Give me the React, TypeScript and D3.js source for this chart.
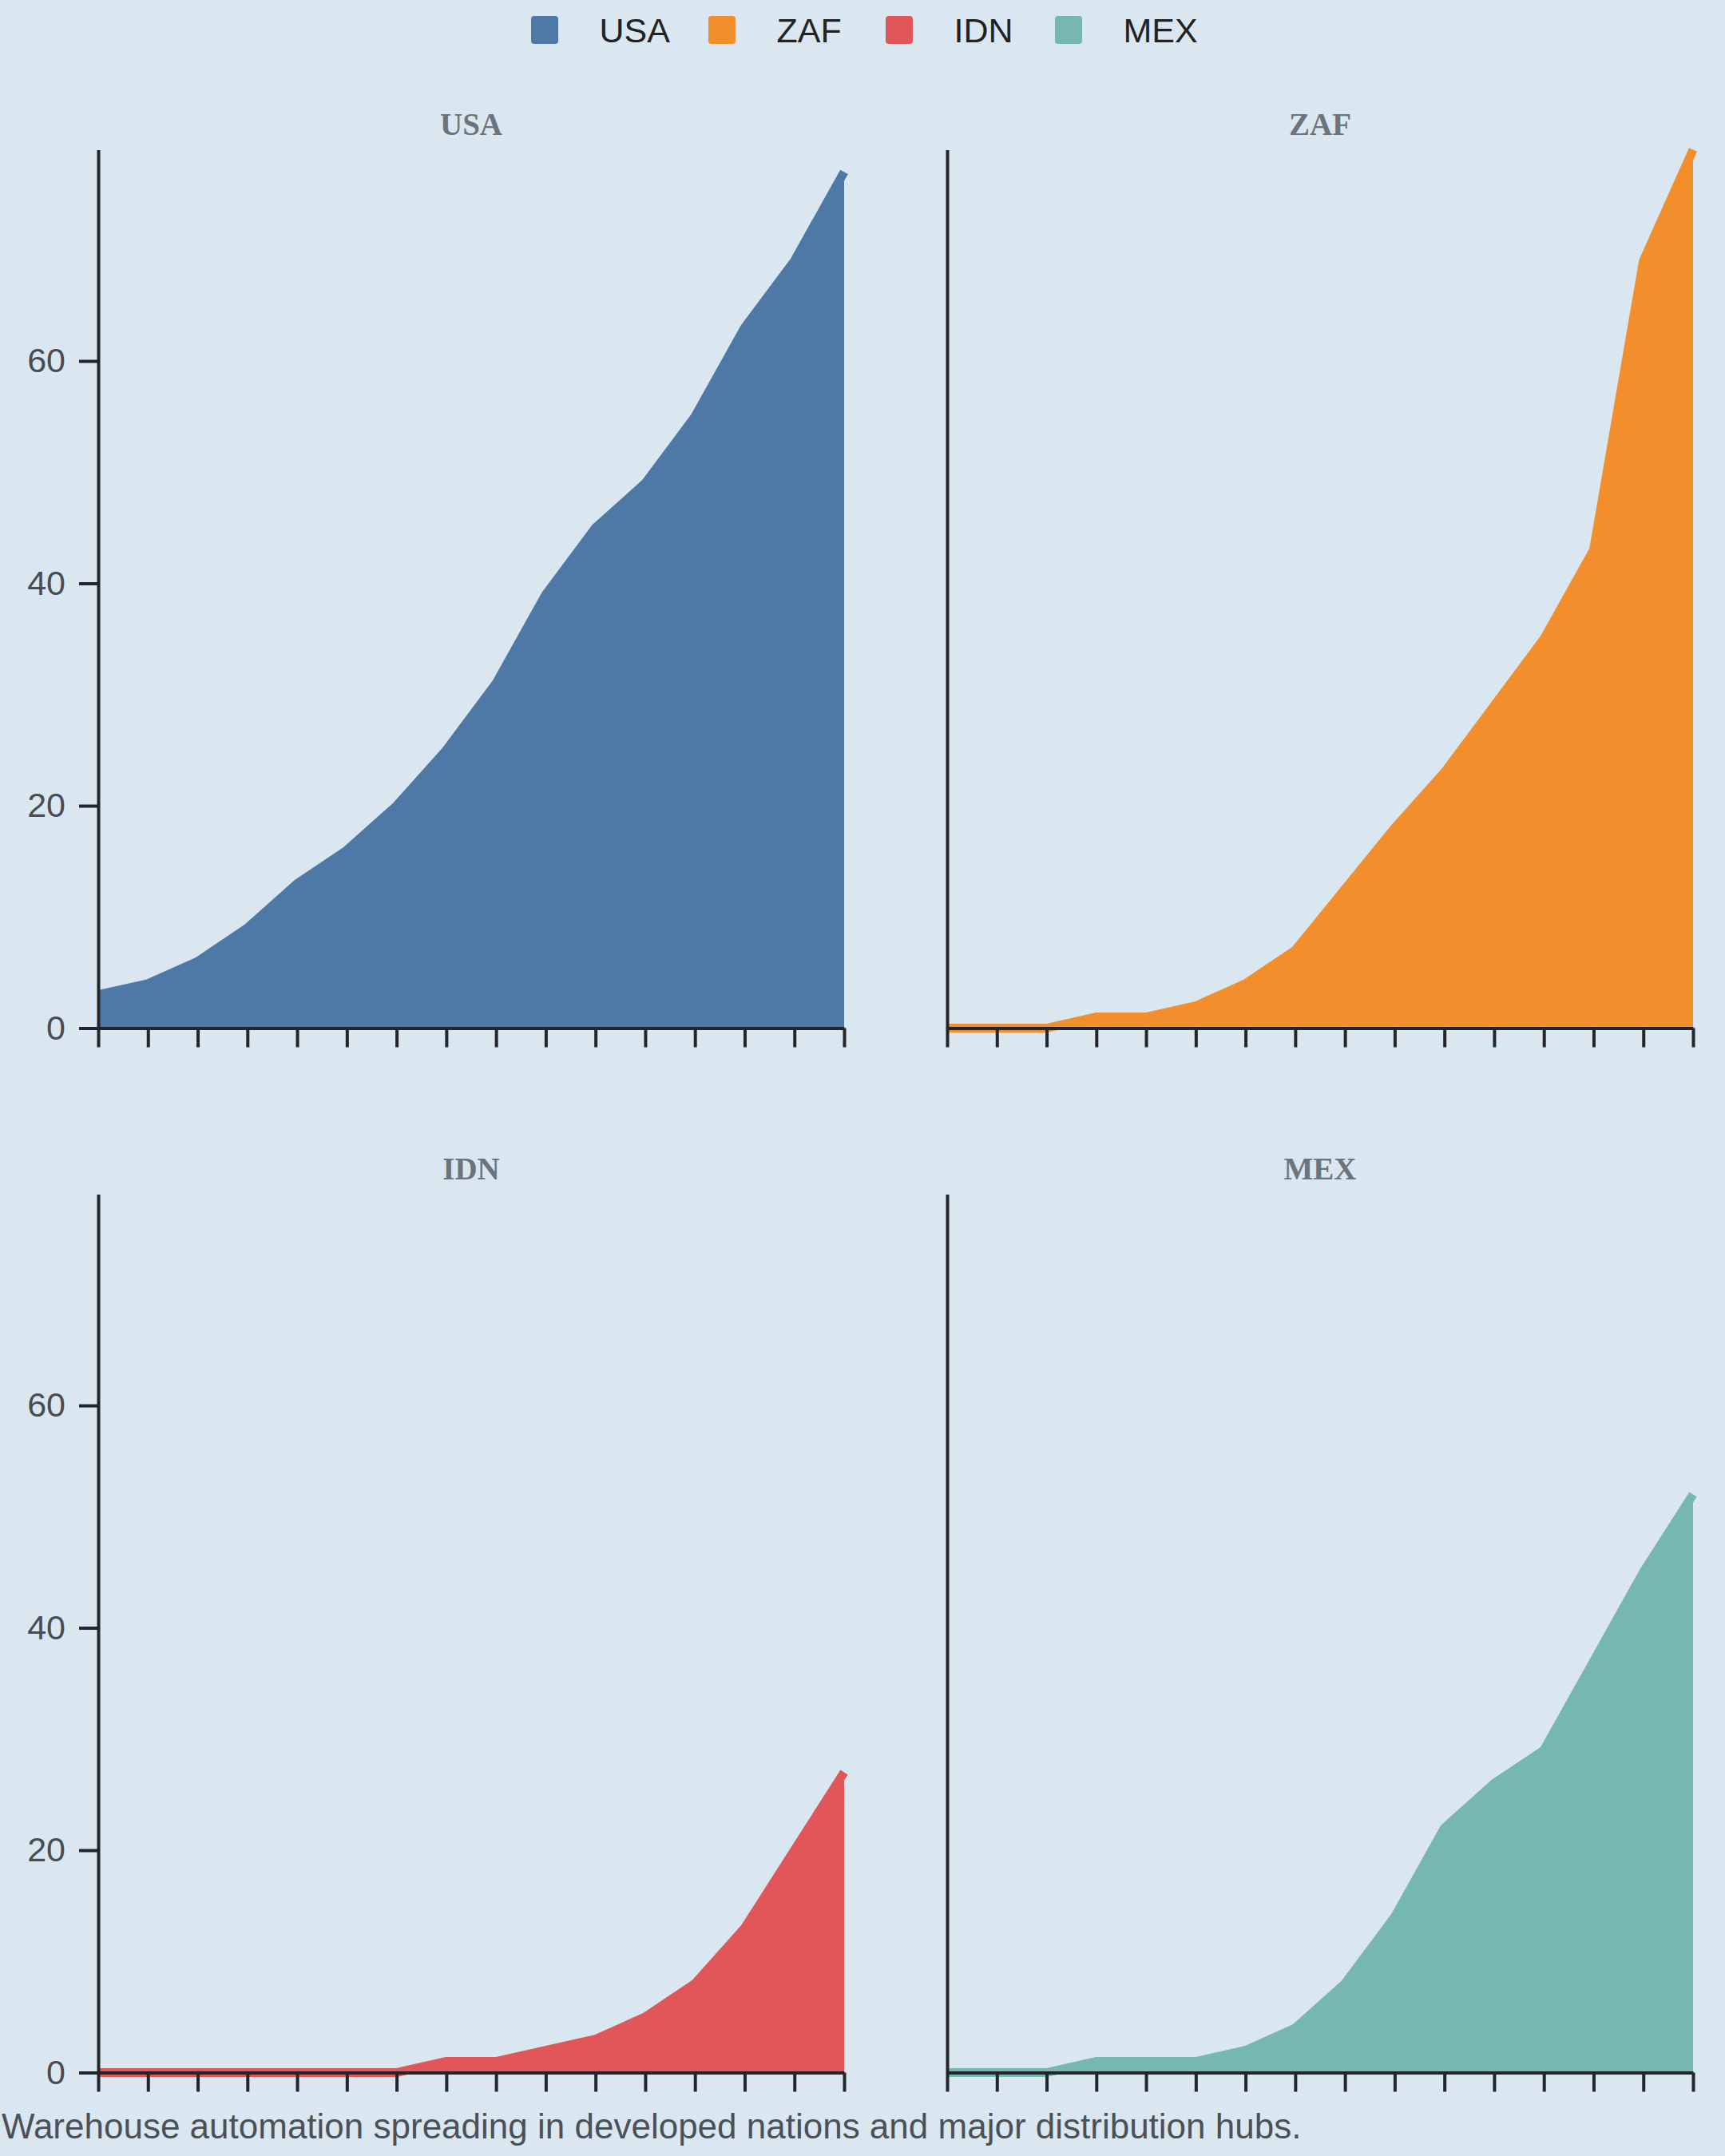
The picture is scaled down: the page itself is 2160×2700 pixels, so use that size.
import React, { useEffect, useRef } from "react";
import * as d3 from "d3";

// ---- data ----
const countries: string[] = ["USA", "ZAF", "IDN", "MEX"];
const colors: string[] = ["#4e79a7", "#f28e2b", "#e15759", "#76b7b2"];
const years: number[] = [2010, 2011, 2012, 2013, 2014, 2015, 2016, 2017, 2018, 2019, 2020, 2021, 2022, 2023, 2024, 2025];
const usaValues: number[] = [3, 4, 6, 9, 13, 16, 20, 25, 31, 39, 45, 49, 55, 63, 69, 77];
const zafValues: number[] = [0, 0, 0, 1, 1, 2, 4, 7, 12.5, 18, 23, 29, 35, 43, 69, 79];
const idnValues: number[] = [0, 0, 0, 0, 0, 0, 0, 1, 1, 2, 3, 5, 8, 13, 20, 27];
const mexValues: number[] = [0, 0, 0, 1, 1, 1, 2, 4, 8, 14, 22, 26, 29, 37, 45, 52];
const yTickValues: number[] = [0, 20, 40, 60];
const caption = "Warehouse automation spreading in developed nations and major distribution hubs.";

// ---- layout ----
const W = 2160;
const H = 2700;
const BG = "#dae7f0";
const AXIS = "#22252a";
const panelW = 934;
const panelH = 1100;
const panelLefts = [123, 1186];
const panelTops = [187.5, 1495.5];
const legendX = [665, 887, 1109, 1321];
const SANS = "'Liberation Sans', Arial, Helvetica, sans-serif";
const SERIF = "'Liberation Serif', 'Times New Roman', Times, serif";

export default function App() {
  const ref = useRef<SVGSVGElement>(null);

  useEffect(() => {
    document.body.style.margin = "0";
    document.body.style.background = BG;
    const svg = d3.select(ref.current as SVGSVGElement);
    svg.selectAll("*").remove();

    svg.append("rect").attr("width", W).attr("height", H).attr("fill", BG);

    const series = [usaValues, zafValues, idnValues, mexValues];
    const yMax = d3.max(series.flat()) as number;

    countries.forEach((name, i) => {
      const col = i % 2;
      const row = Math.floor(i / 2);
      const left = panelLefts[col];
      const top = panelTops[row];

      const x = d3.scalePoint<number>().domain(years).range([left, left + panelW]);
      const y = d3.scaleLinear().domain([0, yMax]).range([top + panelH, top]);

      const data = years.map((yr, k) => ({ yr, v: series[i][k] }));
      const g = svg.append("g");

      const area = d3
        .area<{ yr: number; v: number }>()
        .x((d) => x(d.yr) as number)
        .y0(y(0))
        .y1((d) => y(d.v));
      const line = d3
        .line<{ yr: number; v: number }>()
        .x((d) => x(d.yr) as number)
        .y((d) => y(d.v));

      g.append("path").datum(data).attr("d", area).attr("fill", colors[i]);
      g.append("path")
        .datum(data)
        .attr("d", line)
        .attr("fill", "none")
        .attr("stroke", colors[i])
        .attr("stroke-width", 11)
        .attr("stroke-linecap", "butt");

      const xa = g
        .append("g")
        .attr("transform", `translate(0,${y(0)})`)
        .call(
          d3
            .axisBottom(x)
            .tickSize(24)
            .tickSizeOuter(0)
            .tickFormat(() => "")
        );
      const ya = g
        .append("g")
        .attr("transform", `translate(${left},0)`)
        .call(
          d3
            .axisLeft(y)
            .tickValues(col === 0 ? yTickValues : [])
            .tickSize(24)
            .tickSizeOuter(0)
            .tickPadding(17)
        );

      [xa, ya].forEach((a) => {
        a.attr("color", AXIS);
        a.selectAll("path,line").attr("stroke", AXIS).attr("stroke-width", 4);
      });
      ya.selectAll("text")
        .attr("font-family", SANS)
        .attr("font-size", 43)
        .attr("fill", "#484d54");

      g.append("text")
        .attr("x", left + panelW / 2)
        .attr("y", top - 19)
        .attr("text-anchor", "middle")
        .attr("font-family", SERIF)
        .attr("font-weight", "bold")
        .attr("font-size", 39)
        .attr("fill", "#6c737b")
        .text(name);
    });

    // legend
    const lg = svg.append("g");
    countries.forEach((name, i) => {
      lg.append("rect")
        .attr("x", legendX[i])
        .attr("y", 20)
        .attr("width", 34)
        .attr("height", 35)
        .attr("rx", 4)
        .attr("fill", colors[i]);
      lg.append("text")
        .attr("x", legendX[i] + 85.5)
        .attr("y", 53)
        .attr("font-family", SANS)
        .attr("font-size", 43)
        .attr("fill", "#222")
        .text(name);
    });

    // caption
    svg.append("text")
      .attr("x", 2)
      .attr("y", 2678)
      .attr("font-family", SANS)
      .attr("font-size", 44)
      .attr("fill", "#4b5158")
      .text(caption);
  }, []);

  return <svg ref={ref} width={W} height={H} style={{ display: "block" }} />;
}
